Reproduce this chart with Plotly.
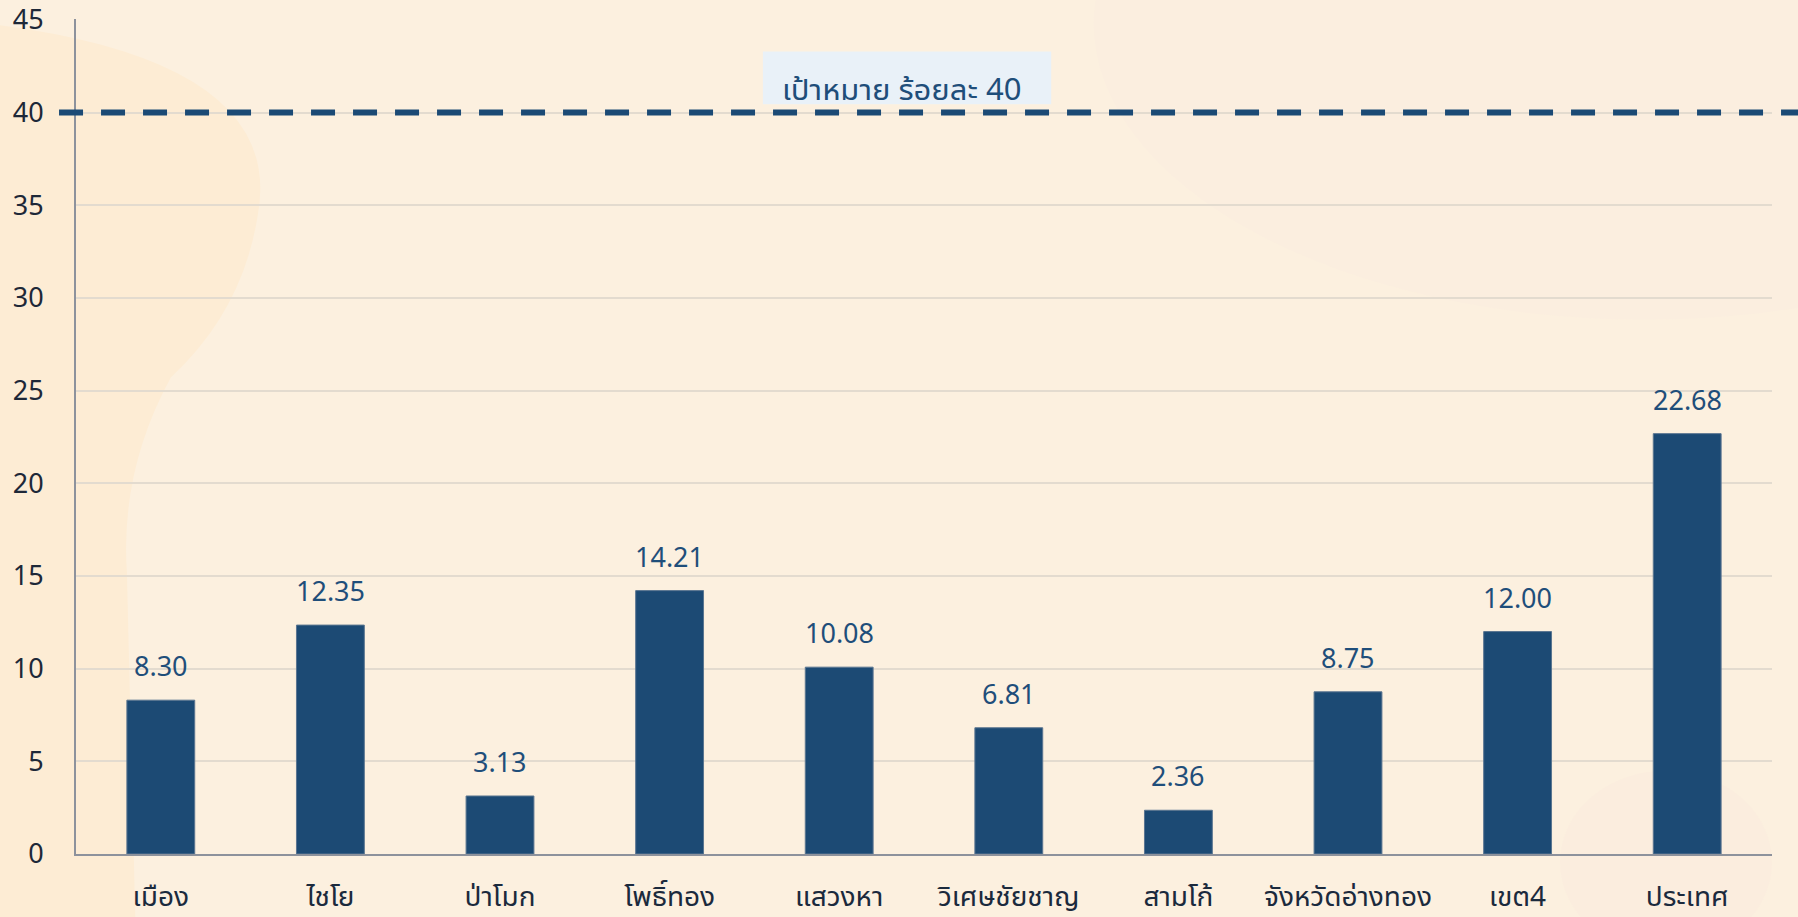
import plotly.graph_objects as go

districts = ["เมือง", "ไชโย", "ป่าโมก", "โพธิ์ทอง", "แสวงหา",
             "วิเศษชัยชาญ", "สามโก้", "จังหวัดอ่างทอง", "เขต4", "ประเทศ"]
values = [8.30, 12.35, 3.13, 14.21, 10.08, 6.81, 2.36, 8.75, 12.00, 22.68]
target = 40
target_label = "เป้าหมาย ร้อยละ 40"
y_ticks = [0, 5, 10, 15, 20, 25, 30, 35, 40, 45]

BAR = "#1c4a74"
TEXT_BLUE = "#1f4e7a"
FONT = "Noto Sans, Noto Sans Thai UI, Noto Sans Thai, sans-serif"

fig = go.Figure()

# Bars
fig.add_trace(
    go.Bar(
        x=districts,
        y=values,
        marker_color=BAR,
        marker_line=dict(color="#5a7590", width=1),
        hoverinfo="x+y",
    )
)

# Value labels above the bars
for name, v in zip(districts, values):
    fig.add_annotation(
        x=name, y=v, text=f"{v:.2f}",
        showarrow=False, yanchor="bottom", yshift=14,
        font=dict(family=FONT, size=27, color=TEXT_BLUE),
    )

# Soft background blobs
fig.add_shape(
    type="path", xref="paper", yref="paper",
    path=("M -0.05,0.994 Q 0.125,0.95 0.107,0.763 "
          "Q 0.098,0.65 0.056,0.571 Q 0.026,0.46 0.03,0.337 "
          "L 0.035,-0.08 L -0.05,-0.08 Z"),
    fillcolor="#fdecd4", line_width=0, layer="below",
)
fig.add_shape(type="circle", xref="paper", yref="paper",
              x0=0.6, x1=1.25, y0=0.64, y1=1.35,
              fillcolor="#fbeedf", line_width=0, layer="below")
fig.add_shape(type="circle", xref="paper", yref="paper",
              x0=0.875, x1=1.0, y0=-0.12, y1=0.1,
              fillcolor="#fbedde", line_width=0, layer="below")

# Target line
fig.add_shape(
    type="line", xref="paper", yref="y",
    x0=-0.01, x1=1.02, y0=target, y1=target,
    line=dict(color="#1b4a75", width=6, dash="24px,18px"),
)

# Target label box
fig.add_shape(
    type="rect", xref="paper", yref="y",
    x0=0.405, x1=0.575, y0=40.45, y1=43.3,
    fillcolor="#e9f1f8", line_width=0, layer="below",
)
fig.add_annotation(
    xref="paper", yref="y", x=0.487, y=40.4, yshift=-6,
    text=target_label, showarrow=False, yanchor="bottom",
    font=dict(family=FONT, size=31, color=TEXT_BLUE),
)

fig.update_xaxes(
    showline=True, linecolor="#8d929c", linewidth=2,
    showgrid=False, ticks="",
    tickfont=dict(family=FONT, size=28, color="#1b2a3d"),
    ticklabelstandoff=16, automargin=False,
)
fig.update_yaxes(
    range=[0, 45.05], tickvals=y_ticks,
    showline=True, linecolor="#8d929c", linewidth=2,
    showgrid=True, gridcolor="#e3dbcf", gridwidth=2,
    zeroline=False, ticks="",
    tickfont=dict(family=FONT, size=27, color="#1e2838"),
    ticklabelstandoff=25, automargin=False,
)

fig.update_layout(
    width=1798, height=917,
    margin=dict(l=76, r=26, t=19, b=63),
    paper_bgcolor="#fcf0df",
    plot_bgcolor="rgba(0,0,0,0)",
    bargap=0.6,
    showlegend=False,
)

fig.write_html(
    "out.html",
    config={"displayModeBar": False},
    post_script="document.body.style.margin='0';",
)
